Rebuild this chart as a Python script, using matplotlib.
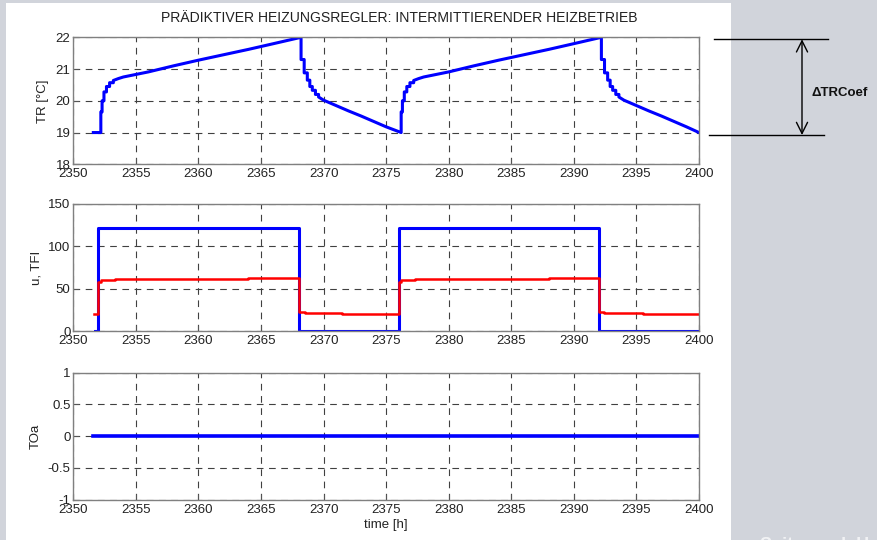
import numpy as np
import matplotlib
matplotlib.use("Agg")
import matplotlib.pyplot as plt
from matplotlib.patches import Rectangle, FancyArrowPatch

plt.rcParams['font.family'] = ['Liberation Sans', 'DejaVu Sans']

# room temperature TR (stair-like trace, duplicated times = jumps)
tr_time = [2351.6, 2352.2, 2352.2, 2352.3, 2352.3, 2352.45, 2352.45, 2352.65, 2352.65, 2352.9,
           2352.9, 2353.2, 2353.2, 2353.6, 2354.0, 2354.5, 2355.0, 2356.0, 2358.0,
           2360.0, 2362.0, 2364.0, 2366.0, 2368.2, 2368.2, 2368.45, 2368.45, 2368.7, 2368.7,
           2368.9, 2368.9, 2369.1, 2369.1, 2369.35, 2369.35, 2369.6, 2369.6, 2370.0, 2371.0,
           2372.0, 2373.0, 2374.0, 2375.0, 2376.2,
           2376.2, 2376.3, 2376.3, 2376.45, 2376.45, 2376.65, 2376.65, 2376.9,
           2376.9, 2377.2, 2377.2, 2377.6, 2378.0, 2378.5, 2379.0, 2380.0, 2382.0,
           2384.0, 2386.0, 2388.0, 2390.0, 2392.2, 2392.2, 2392.45, 2392.45, 2392.7, 2392.7,
           2392.9, 2392.9, 2393.1, 2393.1, 2393.35, 2393.35, 2393.6, 2393.6, 2394.0, 2395.0,
           2396.0, 2397.0, 2398.0, 2399.0, 2400.0]
tr_val = [19.0, 19.0, 19.65, 19.65, 20.0, 20.0, 20.28, 20.28, 20.45, 20.45,
          20.57, 20.57, 20.64, 20.7, 20.75, 20.79, 20.83, 20.91, 21.1,
          21.28, 21.45, 21.62, 21.8, 22.0, 21.3, 21.3, 20.88, 20.88, 20.65,
          20.65, 20.45, 20.45, 20.33, 20.33, 20.2, 20.2, 20.12, 20.02, 19.85,
          19.68, 19.52, 19.35, 19.18, 19.0,
          19.65, 19.65, 20.0, 20.0, 20.28, 20.28, 20.45, 20.45,
          20.57, 20.57, 20.64, 20.7, 20.75, 20.79, 20.83, 20.91, 21.1,
          21.28, 21.45, 21.62, 21.8, 22.0, 21.3, 21.3, 20.88, 20.88, 20.65,
          20.65, 20.45, 20.45, 20.33, 20.33, 20.2, 20.2, 20.12, 20.02, 19.85,
          19.68, 19.52, 19.35, 19.18, 19.0]

# control signal u (blue)
u_time = [2351.7, 2352.0, 2352.0, 2368.0, 2368.0, 2376.0, 2376.0, 2392.0, 2392.0, 2400.0]
u_val = [0, 0, 122, 122, 0, 0, 122, 122, 0, 0]

# flow temperature TFI (red), step changes
tfi_time = [2351.65, 2351.95, 2352.2, 2353.3, 2364.0, 2368.0, 2368.5, 2371.5,
            2376.0, 2376.2, 2377.3, 2388.0, 2392.0, 2392.4, 2395.5, 2400.0]
tfi_val = [20, 58, 60, 61.5, 63, 22, 21, 20,
           58, 60, 61.5, 63, 22, 21, 20, 20]

# outside temperature offset TOa
toa_time = [2351.6, 2400.0]
toa_val = [0, 0]

xticks = [2350, 2355, 2360, 2365, 2370, 2375, 2380, 2385, 2390, 2395, 2400]

fig = plt.figure(figsize=(8.77, 5.4), dpi=100)
fig.patch.set_facecolor('#d1d4db')
fig.patches.append(Rectangle((6 / 877, 0), 725 / 877, 537 / 540, transform=fig.transFigure,
                             facecolor='white', edgecolor='none', zorder=-5))

W, H = 877, 540
def pos(left, right, top, bottom):
    return [left / W, 1 - bottom / H, (right - left) / W, (bottom - top) / H]

ax1 = fig.add_axes(pos(73.3, 699, 37.3, 164.3))
ax2 = fig.add_axes(pos(73.3, 699, 204, 331))
ax3 = fig.add_axes(pos(73.3, 699, 372.7, 499.7))

ax1.plot(tr_time, tr_val, color='#0000ff', lw=2.2)
ax2.plot(u_time, u_val, color='#0000ff', lw=2.2)
ax2.step(tfi_time, tfi_val, where='post', color='#ff0000', lw=1.8)
ax3.plot(toa_time, toa_val, color='#0000ff', lw=2.6)

ax1.set_ylim(18, 22)
ax1.set_yticks([18, 19, 20, 21, 22])
ax2.set_ylim(0, 150)
ax2.set_yticks([0, 50, 100, 150])
ax3.set_ylim(-1, 1)
ax3.set_yticks([-1, -0.5, 0, 0.5, 1])
ax3.set_yticklabels(['-1', '-0.5', '0', '0.5', '1'])

for ax in (ax1, ax2, ax3):
    ax.set_xlim(2350, 2400)
    ax.set_xticks(xticks)
    ax.grid(True, color='#404040', linestyle=(0, (6, 5)), linewidth=0.8)
    ax.tick_params(direction='in', length=4, labelsize=9.5, colors='#555555',
                   labelcolor='#222222', pad=2)
    ax.tick_params(axis='x', pad=3)
    for s in ax.spines.values():
        s.set_color('#808080')
        s.set_linewidth(1.0)

ax1.set_ylabel('TR [°C]', fontsize=9.5, color='#222222', labelpad=5)
ax2.set_ylabel('u, TFI', fontsize=9.5, color='#222222', labelpad=4)
ax3.set_ylabel('TOa', fontsize=9.5, color='#222222', labelpad=4)
ax3.set_xlabel('time [h]', fontsize=9.5, color='#222222', labelpad=2)
fig.text(399 / W, 1 - 18 / H,
         'PRÄDIKTIVER HEIZUNGSREGLER: INTERMITTIERENDER HEIZBETRIEB',
         fontsize=10.1, color='#222222', ha='center', va='center')

# Delta TRCoef annotation on the right
fig.add_artist(plt.Line2D([714 / W, 828 / W], [1 - 39.3 / H] * 2, color='black', lw=1))
fig.add_artist(plt.Line2D([709 / W, 824 / W], [1 - 135 / H] * 2, color='black', lw=1))
fig.add_artist(FancyArrowPatch(
    (802 / W, 1 - 39.3 / H), (802 / W, 1 - 135 / H), transform=fig.transFigure,
    arrowstyle='<->,head_length=8,head_width=4', color='black', lw=1,
    shrinkA=0, shrinkB=0))
fig.text(811 / W, 1 - 93 / H, '\u0394TRCoef', fontsize=9.5, fontweight='bold',
         va='center', ha='left', color='#111111')
fig.text(760 / W, -6 / H, 'Seite  und  H', fontsize=13, fontweight='bold',
         color='white', alpha=0.7, va='center', ha='left')

fig.savefig('out.png', dpi=100, facecolor=fig.get_facecolor())
